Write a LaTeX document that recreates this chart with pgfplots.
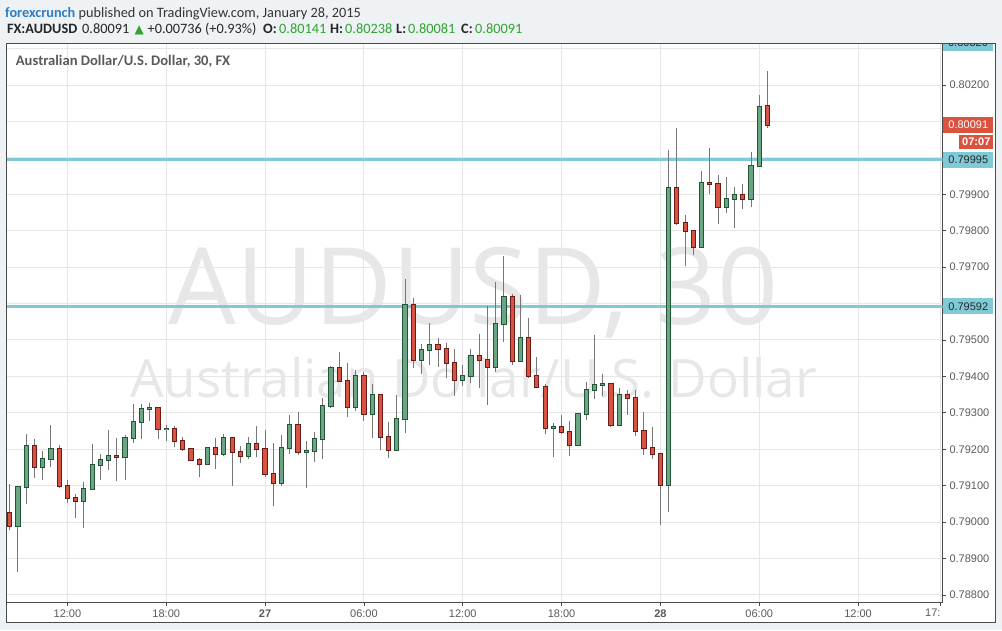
\documentclass[border=0pt]{standalone}
\usepackage{pgfplots}
\pgfplotsset{compat=1.18}
\usepackage{pgfplotstable}
\usepackage{fontspec}
\setmainfont{Carlito}
\newfontfamily\axisfont{Liberation Sans}
\newfontfamily\wmfont{Open Sans}
\newfontfamily\symfont{DejaVu Sans}

\definecolor{bg}{HTML}{EFF2F5}
\definecolor{framec}{HTML}{4A4A4A}
\definecolor{gridc}{HTML}{E6E6E6}
\definecolor{upfill}{HTML}{6BA583}
\definecolor{upline}{HTML}{225437}
\definecolor{dnfill}{HTML}{D75442}
\definecolor{dnline}{HTML}{6B1A16}
\definecolor{wick}{HTML}{767676}
\definecolor{lvl}{HTML}{80CAD7}
\definecolor{lbl}{HTML}{5A5A5A}
\definecolor{fxblue}{HTML}{2F7EC0}
\definecolor{fxgreen}{HTML}{2FA52F}
\definecolor{wm}{HTML}{E7E7E7}
\definecolor{redlbl}{HTML}{D9533F}

% AUDUSD 30 min candles, i = 0 is 26 Jan 08:30
\pgfplotstableread{
i  o       h       l       c
0  0.79024 0.79105 0.78979 0.78988
1  0.78988 0.79100 0.78863 0.79096
2  0.79096 0.79243 0.79050 0.79209
3  0.79209 0.79229 0.79121 0.79151
4  0.79151 0.79196 0.79117 0.79173
5  0.79173 0.79268 0.79150 0.79200
6  0.79200 0.79213 0.79095 0.79099
7  0.79099 0.79116 0.79053 0.79066
8  0.79066 0.79077 0.79012 0.79059
9  0.79059 0.79110 0.78985 0.79090
10 0.79090 0.79215 0.79089 0.79157
11 0.79157 0.79188 0.79117 0.79170
12 0.79170 0.79254 0.79142 0.79181
13 0.79181 0.79232 0.79114 0.79178
14 0.79178 0.79240 0.79117 0.79231
15 0.79231 0.79323 0.79217 0.79275
16 0.79275 0.79323 0.79227 0.79311
17 0.79311 0.79326 0.79278 0.79312
18 0.79312 0.79315 0.79227 0.79256
19 0.79256 0.79268 0.79222 0.79257
20 0.79257 0.79265 0.79205 0.79223
21 0.79223 0.79234 0.79194 0.79200
22 0.79200 0.79201 0.79170 0.79170
23 0.79170 0.79177 0.79123 0.79159
24 0.79159 0.79206 0.79156 0.79203
25 0.79203 0.79231 0.79147 0.79187
26 0.79187 0.79243 0.79181 0.79231
27 0.79231 0.79234 0.79098 0.79192
28 0.79192 0.79209 0.79161 0.79181
29 0.79181 0.79234 0.79172 0.79214
30 0.79214 0.79265 0.79178 0.79200
31 0.79200 0.79254 0.79123 0.79132
32 0.79132 0.79218 0.79045 0.79107
33 0.79107 0.79240 0.79098 0.79203
34 0.79203 0.79293 0.79187 0.79268
35 0.79268 0.79301 0.79184 0.79192
36 0.79192 0.79222 0.79095 0.79195
37 0.79195 0.79247 0.79164 0.79228
38 0.79228 0.79342 0.79172 0.79318
39 0.79318 0.79428 0.79313 0.79424
40 0.79424 0.79468 0.79385 0.79388
41 0.79388 0.79438 0.79288 0.79317
42 0.79317 0.79417 0.79304 0.79402
43 0.79402 0.79412 0.79277 0.79297
44 0.79297 0.79378 0.79230 0.79348
45 0.79348 0.79350 0.79197 0.79234
46 0.79234 0.79276 0.79175 0.79198
47 0.79198 0.79348 0.79197 0.79283
48 0.79283 0.79667 0.79245 0.79597
49 0.79597 0.79615 0.79423 0.79446
50 0.79446 0.79488 0.79406 0.79473
51 0.79473 0.79548 0.79431 0.79487
52 0.79487 0.79506 0.79426 0.79476
53 0.79476 0.79493 0.79395 0.79438
54 0.79438 0.79474 0.79346 0.79391
55 0.79391 0.79430 0.79374 0.79402
56 0.79402 0.79474 0.79382 0.79457
57 0.79457 0.79516 0.79368 0.79446
58 0.79446 0.79594 0.79322 0.79427
59 0.79427 0.79658 0.79412 0.79545
60 0.79545 0.79731 0.79494 0.79619
61 0.79619 0.79625 0.79431 0.79443
62 0.79443 0.79623 0.79439 0.79506
63 0.79506 0.79560 0.79395 0.79402
64 0.79402 0.79452 0.79370 0.79372
65 0.79372 0.79380 0.79242 0.79259
66 0.79259 0.79272 0.79178 0.79260
67 0.79260 0.79294 0.79242 0.79248
68 0.79248 0.79278 0.79181 0.79212
69 0.79212 0.79300 0.79208 0.79298
70 0.79298 0.79384 0.79280 0.79363
71 0.79363 0.79513 0.79339 0.79377
72 0.79377 0.79406 0.79346 0.79378
73 0.79378 0.79379 0.79261 0.79267
74 0.79267 0.79367 0.79266 0.79350
75 0.79350 0.79364 0.79294 0.79341
76 0.79341 0.79364 0.79236 0.79250
77 0.79250 0.79301 0.79183 0.79204
78 0.79204 0.79262 0.79174 0.79187
79 0.79187 0.79188 0.78991 0.79101
80 0.79101 0.80021 0.79027 0.79918
81 0.79918 0.80082 0.79816 0.79822
82 0.79822 0.79842 0.79703 0.79800
83 0.79800 0.79801 0.79733 0.79756
84 0.79756 0.79963 0.79755 0.79932
85 0.79932 0.80027 0.79901 0.79927
86 0.79927 0.79952 0.79818 0.79866
87 0.79866 0.79947 0.79849 0.79888
88 0.79888 0.79919 0.79807 0.79899
89 0.79899 0.79928 0.79860 0.79888
90 0.79888 0.80015 0.79865 0.79979
91 0.79979 0.80172 0.79978 0.80141
92 0.80141 0.80238 0.80081 0.80091
}\candles

\pgfplotsset{
  candle/.style n args={2}{draw=none, mark=none, forget plot,
    error bars/y dir=plus, error bars/y explicit, error bars/error mark=none,
    error bars/error bar style={draw=#1, line width=#2}},
  edged/.style={error bars/error bar style={shorten <=-1pt, shorten >=-1pt}},
}

\begin{document}
\begin{tikzpicture}[x=1pt,y=1pt]
\fill[bg] (0,0) rectangle (1002,630);
\fill[white] (6.7,7.3) rectangle (995,586.7);

% header
\node[anchor=base west, inner sep=0pt, font=\fontsize{14.3}{16}\selectfont] at (5,612.3)
  {\textcolor{fxblue}{\bfseries forexcrunch}\ \textcolor{black!80}{published on TradingView.com, January 28, 2015}};
\begin{scope}[every node/.style={anchor=base west, inner sep=0pt, font=\fontsize{14.3}{16}\selectfont, text=black!85}]
\node at (7,596.2) {\bfseries FX:AUDUSD};
\node at (82,596.2) {0.80091};
\node[text=fxgreen, font=\symfont\fontsize{12}{14}\selectfont] at (134.5,596.2) {▲};
\node at (147.5,596.2) {+0.00736 (+0.93\%)};
\node at (263,596.2) {\bfseries O:};
\node[text=fxgreen] at (279,596.2) {0.80141};
\node at (330,596.2) {\bfseries H:};
\node[text=fxgreen] at (345,596.2) {0.80238};
\node at (396,596.2) {\bfseries L:};
\node[text=fxgreen] at (408,596.2) {0.80081};
\node at (461,596.2) {\bfseries C:};
\node[text=fxgreen] at (475,596.2) {0.80091};
\end{scope}

\begin{axis}[
  at={(6.7pt,27.7pt)}, anchor=south west,
  scale only axis, width=935.8pt, height=559pt,
  xmin=-0.37, xmax=113.25,
  ymin=0.787799, ymax=0.803145,
  axis x line*=bottom, axis y line*=right,
  axis line style={framec, line width=1pt},
  tick align=outside,
  major tick length=3.5pt,
  tick style={framec, line width=0.8pt},
  grid=major,
  major grid style={gridc, line width=1pt},
  clip mode=individual,
  xtick={7,19,31,43,55,67,79,91,103,113},
  xticklabels={12:00,18:00,\textbf{27},06:00,12:00,18:00,\textbf{28},06:00,12:00,\llap{17:}},
  xticklabel style={font=\axisfont\fontsize{11}{13}\selectfont, text=lbl},
  ytick={0.788,0.789,0.790,0.791,0.792,0.793,0.794,0.795,0.796,0.797,0.798,0.799,0.800,0.801,0.802,0.803},
  yticklabels={0.78800,0.78900,0.79000,0.79100,0.79200,0.79300,0.79400,0.79500,,0.79700,0.79800,0.79900,,,0.80200,},
  yticklabel style={font=\axisfont\fontsize{11}{13}\selectfont, text=lbl, anchor=west},
]
% watermark
\node[anchor=base, inner sep=0pt, font=\wmfont\fontsize{106.8}{112}\selectfont, text=wm] at (axis cs:56.31,0.795412) {AUDUSD, 30};
\node[anchor=base, inner sep=0pt, font=\wmfont\fontsize{52.9}{57}\selectfont, text=wm] at (axis cs:56.31,0.793435) {Australian Dollar/U.S. Dollar};

% levels
\addplot[lvl, line width=2.6pt, forget plot] coordinates {(-0.37,0.79592) (113.25,0.79592)};
\addplot[lvl, line width=2.6pt, forget plot] coordinates {(-0.37,0.79995) (113.25,0.79995)};

% wicks
\addplot[candle={wick}{1pt}]
  table[x=i, y=l, y error plus expr=\thisrow{h}-\thisrow{l}] {\candles};

% rising bodies
\addplot[candle={upline}{5.2pt}, edged, restrict expr to domain={\thisrow{c}-\thisrow{o}}{0:1}]
  table[x=i, y=o, y error plus expr=\thisrow{c}-\thisrow{o}] {\candles};
\addplot[candle={upfill}{3.2pt}, restrict expr to domain={\thisrow{c}-\thisrow{o}}{0:1}]
  table[x=i, y=o, y error plus expr=\thisrow{c}-\thisrow{o}] {\candles};

% falling bodies
\addplot[candle={dnline}{5.2pt}, edged, restrict expr to domain={\thisrow{c}-\thisrow{o}}{-1:0}]
  table[x=i, y=o, y error plus expr=\thisrow{c}-\thisrow{o}] {\candles};
\addplot[candle={dnfill}{3.2pt}, restrict expr to domain={\thisrow{c}-\thisrow{o}}{-1:0}]
  table[x=i, y=o, y error plus expr=\thisrow{c}-\thisrow{o}] {\candles};

% price labels on the right scale
\begin{scope}[every node/.style={anchor=west, inner sep=0pt, minimum width=50pt, minimum height=16pt, font=\axisfont\fontsize{11}{13}\selectfont}]
\node[fill=lvl, text=black!85] at (axis cs:113.25,0.79592) [xshift=0.6pt] {0.79592};
\node[fill=lvl, text=black!85] at (axis cs:113.25,0.79995) [xshift=0.6pt] {0.79995};
\node[fill=redlbl, text=white] (last) at (axis cs:113.25,0.80091) [xshift=0.6pt] {0.80091};
\end{scope}
\node[anchor=north east, inner sep=0pt, minimum width=34pt, minimum height=14pt, fill=redlbl, text=white,
  font=\axisfont\bfseries\fontsize{11}{13}\selectfont] at ([yshift=-2pt]last.south east) {07:07};
\end{axis}

% chart title
\node[anchor=base west, inner sep=0pt, font=\bfseries\fontsize{14.6}{16}\selectfont, text=lbl] at (15.7,564.8)
  {Australian Dollar/U.S. Dollar, 30, FX};

% clipped level label at the top of the scale
\begin{scope}
\clip (943,579) rectangle (993,586.7);
\fill[lvl] (943,579) rectangle (993,586.7);
\node[inner sep=0pt, font=\axisfont\fontsize{11}{13}\selectfont, text=black!85] at (968,587.5) {0.80320};
\end{scope}

\draw[framec, line width=1pt] (6.7,7.3) rectangle (995,586.7);
\pgfresetboundingbox
\path[use as bounding box] (0,0) rectangle (1002,630);
\end{tikzpicture}
\end{document}
